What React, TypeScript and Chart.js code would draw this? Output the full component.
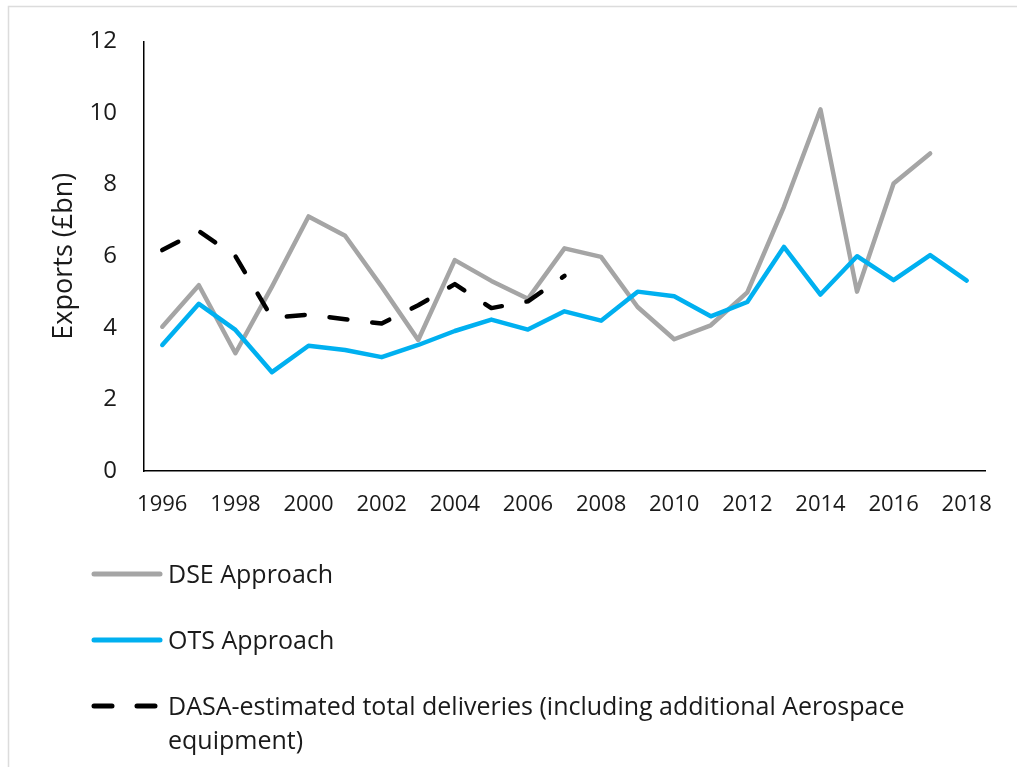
import { useEffect, useRef } from "react";
import { Chart, registerables } from "chart.js";

Chart.register(...registerables);

// Years on the category axis
const years = [
  "1996", "1997", "1998", "1999", "2000", "2001", "2002", "2003", "2004", "2005", "2006", "2007",
  "2008", "2009", "2010", "2011", "2012", "2013", "2014", "2015", "2016", "2017", "2018",
];

// Exports (£bn) by method
const dseApproach = [
  4.03, 5.19, 3.29, 5.15, 7.11, 6.57, 5.15, 3.66, 5.89, 5.31, 4.81, 6.22,
  5.98, 4.58, 3.68, 4.07, 4.99, 7.38, 10.1, 5.01, 8.03, 8.87, null,
];
const otsApproach = [
  3.52, 4.67, 3.94, 2.76, 3.5, 3.38, 3.18, 3.52, 3.91, 4.23, 3.95, 4.46,
  4.2, 5.01, 4.88, 4.32, 4.72, 6.26, 4.93, 6.0, 5.33, 6.03, 5.32,
];
const dasaDeliveries = [
  6.17, 6.7, 6.0, 4.28, 4.37, 4.24, 4.12, 4.63, 5.22, 4.55, 4.74, 5.45,
  null, null, null, null, null, null, null, null, null, null, null,
];

const seriesNames = [
  "DSE Approach",
  "OTS Approach",
  "DASA-estimated total deliveries (including additional Aerospace equipment)",
];

const yAxisTitle = "Exports (£bn)";

const FONT = "'Open Sans', sans-serif";
const TEXT = "#1a1a1a";
const DASH = [18, 25];

// Light frame around the whole figure
const framePlugin = {
  id: "frame",
  beforeDraw(chart: Chart) {
    const { ctx, width, height } = chart;
    ctx.save();
    ctx.fillStyle = "#ffffff";
    ctx.fillRect(0, 0, width, height);
    ctx.strokeStyle = "#dcdcdc";
    ctx.lineWidth = 1.5;
    ctx.beginPath();
    ctx.moveTo(8.5, height);
    ctx.lineTo(8.5, 6.5);
    ctx.lineTo(width, 6.5);
    ctx.stroke();
    ctx.restore();
  },
};

// Rotated y-axis title
const yTitlePlugin = {
  id: "yTitle",
  afterDraw(chart: Chart) {
    const { ctx, chartArea } = chart;
    ctx.save();
    ctx.translate(64, (chartArea.top + chartArea.bottom) / 2);
    ctx.rotate(-Math.PI / 2);
    ctx.font = `27px ${FONT}`;
    ctx.fillStyle = TEXT;
    ctx.textAlign = "center";
    ctx.textBaseline = "middle";
    ctx.fillText(yAxisTitle, 0, 0);
    ctx.restore();
  },
};

// Stacked legend below the plot, wrapping long labels
const legendPlugin = {
  id: "stackedLegend",
  afterDraw(chart: Chart) {
    const { ctx } = chart;
    const x0 = 94;
    const x1 = 160;
    const textX = 168;
    const maxTextWidth = 790;
    const rowTop = 574;
    const rowStep = 66;
    const lineStep = 34;
    ctx.save();
    ctx.font = `25px ${FONT}`;
    chart.data.datasets.forEach((ds: any, i: number) => {
      const y = rowTop + i * rowStep;
      ctx.strokeStyle = ds.borderColor;
      ctx.lineWidth = 5;
      ctx.lineCap = "round";
      ctx.setLineDash(ds.borderDash || []);
      ctx.beginPath();
      ctx.moveTo(x0, y);
      ctx.lineTo(x1, y);
      ctx.stroke();
      ctx.setLineDash([]);

      const words = String(ds.label).split(" ");
      const lines: string[] = [];
      let current = "";
      words.forEach((w) => {
        const test = current ? current + " " + w : w;
        if (ctx.measureText(test).width > maxTextWidth && current) {
          lines.push(current);
          current = w;
        } else {
          current = test;
        }
      });
      if (current) lines.push(current);

      ctx.fillStyle = TEXT;
      ctx.textAlign = "left";
      ctx.textBaseline = "alphabetic";
      lines.forEach((ln, k) => {
        ctx.fillText(ln, textX, y + 8.5 + k * lineStep);
      });
    });
    ctx.restore();
  },
};

export default function App() {
  const canvasRef = useRef<HTMLCanvasElement | null>(null);

  useEffect(() => {
    const canvas = canvasRef.current;
    if (!canvas) return;
    const chart = new Chart(canvas, {
      type: "line",
      data: {
        labels: years,
        datasets: [
          {
            label: seriesNames[0],
            data: dseApproach,
            borderColor: "#a5a5a5",
            borderWidth: 4.5,
            order: 2,
          },
          {
            label: seriesNames[1],
            data: otsApproach,
            borderColor: "#00b0f0",
            borderWidth: 4.5,
            order: 1,
          },
          {
            label: seriesNames[2],
            data: dasaDeliveries,
            borderColor: "#000000",
            borderWidth: 4.5,
            borderDash: DASH,
            order: 0,
          },
        ],
      },
      options: {
        responsive: false,
        animation: false,
        devicePixelRatio: 1,
        layout: { padding: { left: 0, top: 36, right: 32, bottom: 0 } },
        elements: {
          point: { radius: 0, hoverRadius: 0 },
          line: {
            tension: 0,
            borderCapStyle: "round",
            borderJoinStyle: "round",
            fill: false,
          },
        },
        plugins: {
          legend: { display: false },
          tooltip: { enabled: false },
          title: { display: false },
        },
        scales: {
          x: {
            type: "category",
            offset: true,
            grid: { display: false, drawTicks: false },
            border: { display: true, color: "#000000", width: 1.5 },
            ticks: {
              autoSkip: false,
              maxRotation: 0,
              minRotation: 0,
              padding: 21,
              color: TEXT,
              font: { family: FONT, size: 22 },
              callback: (_v: any, i: number) => (i % 2 === 0 ? years[i] : ""),
            },
            afterFit: (scale: any) => {
              scale.height = 296;
            },
          },
          y: {
            min: 0,
            max: 12,
            grid: { display: false, drawTicks: false },
            border: { display: true, color: "#000000", width: 1.5 },
            ticks: {
              stepSize: 2,
              padding: 27,
              color: TEXT,
              font: { family: FONT, size: 24 },
            },
            afterFit: (scale: any) => {
              scale.width = 144;
            },
          },
        },
      },
      plugins: [framePlugin, yTitlePlugin, legendPlugin],
    });
    return () => chart.destroy();
  }, []);

  return (
    <div
      style={{
        position: "fixed",
        left: 0,
        top: 0,
        width: 1017,
        height: 767,
        background: "#ffffff",
      }}
    >
      <canvas
        ref={canvasRef}
        width={1017}
        height={767}
        style={{ display: "block", width: 1017, height: 767 }}
      />
    </div>
  );
}
